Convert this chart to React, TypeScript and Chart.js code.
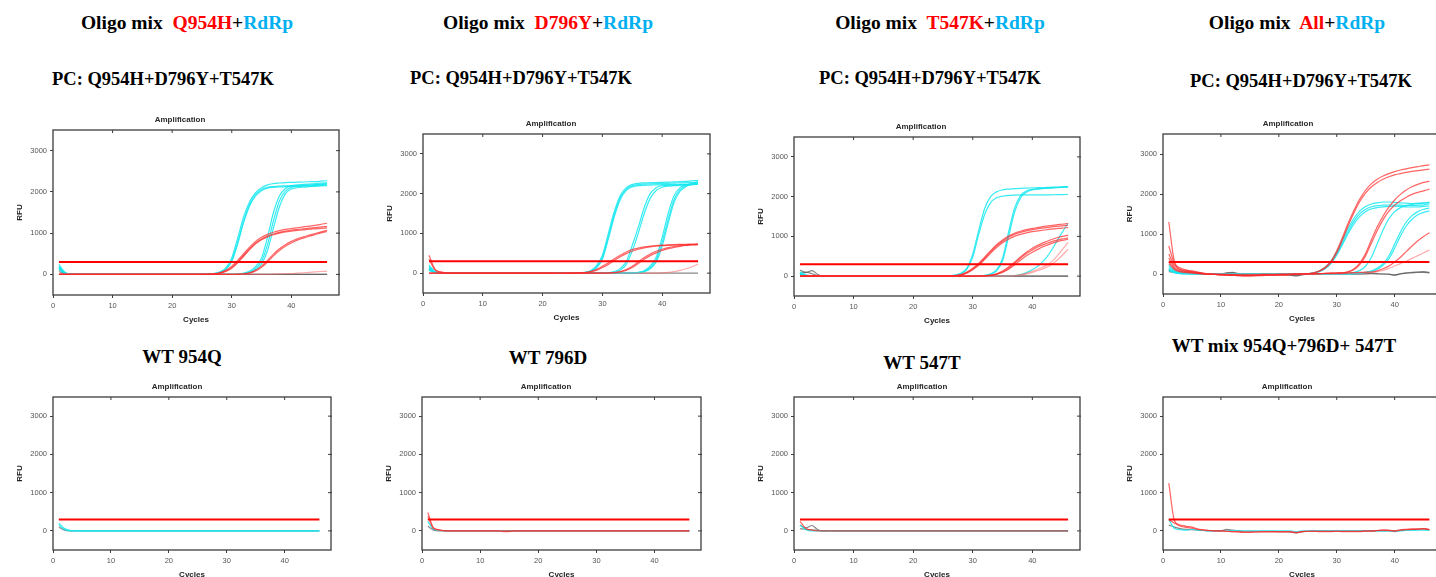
import { useEffect, useRef } from 'react';
import { Chart, registerables } from 'chart.js';

Chart.register(...registerables);
Chart.defaults.font.family = '"Liberation Sans", Arial, sans-serif';

// ---------- shared axis data ----------
const cycles = [
  1, 2, 3, 4, 5, 6, 7, 8, 9, 10,
  11, 12, 13, 14, 15, 16, 17, 18, 19, 20,
  21, 22, 23, 24, 25, 26, 27, 28, 29, 30,
  31, 32, 33, 34, 35, 36, 37, 38, 39, 40,
  41, 42, 43, 44, 45, 46,
];
const xTickValues = [0, 10, 20, 30, 40];
const yTickValues = [0, 1000, 2000, 3000];
const thresholdValue = 300;
const thresholdCycles = [1, 46];

// ---------- Panel 1: Oligo mix Q954H+RdRp ----------
const p1CyanA = [
  240, 50, 10, 0, 0, 0, 0, 0, 0, 0,
  0, 0, 0, 0, 0, 0, 0, 0, 0, 0,
  0, 0, 0, 0, 0, 5, 20, 60, 160, 400,
  880, 1400, 1760, 1980, 2100, 2170, 2200, 2215, 2225, 2230,
  2235, 2240, 2245, 2250, 2260, 2270,
];
const p1CyanB = [
  200, 40, 5, 0, 0, 0, 0, 0, 0, 0,
  0, 0, 0, 0, 0, 0, 0, 0, 0, 0,
  0, 0, 0, 0, 0, 3, 15, 45, 130, 340,
  780, 1300, 1700, 1940, 2060, 2110, 2130, 2140, 2145, 2150,
  2155, 2160, 2165, 2175, 2185, 2200,
];
const p1CyanC = [
  160, 30, 0, 0, 0, 0, 0, 0, 0, 0,
  0, 0, 0, 0, 0, 0, 0, 0, 0, 0,
  0, 0, 0, 0, 0, 2, 12, 40, 115, 310,
  740, 1260, 1660, 1900, 2030, 2090, 2110, 2120, 2125, 2130,
  2135, 2140, 2145, 2150, 2155, 2160,
];
const p1CyanD = [
  180, 30, 0, 0, 0, 0, 0, 0, 0, 0,
  0, 0, 0, 0, 0, 0, 0, 0, 0, 0,
  0, 0, 0, 0, 0, 0, 0, 0, 0, 3,
  8, 30, 80, 190, 400, 900, 1500, 1900, 2080, 2150,
  2170, 2180, 2190, 2200, 2210, 2220,
];
const p1CyanE = [
  150, 25, 0, 0, 0, 0, 0, 0, 0, 0,
  0, 0, 0, 0, 0, 0, 0, 0, 0, 0,
  0, 0, 0, 0, 0, 0, 0, 0, 0, 0,
  5, 20, 60, 150, 320, 720, 1300, 1780, 2020, 2110,
  2140, 2150, 2160, 2170, 2180, 2190,
];
const p1CyanF = [
  130, 20, 0, 0, 0, 0, 0, 0, 0, 0,
  0, 0, 0, 0, 0, 0, 0, 0, 0, 0,
  0, 0, 0, 0, 0, 0, 0, 0, 0, 0,
  3, 12, 40, 110, 250, 580, 1120, 1640, 1950, 2070,
  2100, 2115, 2125, 2135, 2145, 2150,
];
const p1RedA = [
  0, 0, 0, 0, 0, 0, 0, 0, 0, 0,
  0, 0, 0, 0, 0, 0, 0, 0, 0, 0,
  0, 0, 0, 0, 0, 5, 15, 40, 100, 200,
  340, 500, 660, 800, 900, 970, 1020, 1060, 1090, 1110,
  1130, 1150, 1170, 1190, 1215, 1240,
];
const p1RedB = [
  0, 0, 0, 0, 0, 0, 0, 0, 0, 0,
  0, 0, 0, 0, 0, 0, 0, 0, 0, 0,
  0, 0, 0, 0, 0, 3, 10, 30, 80, 170,
  300, 460, 620, 760, 860, 930, 980, 1020, 1050, 1070,
  1090, 1105, 1120, 1135, 1150, 1160,
];
const p1RedC = [
  0, 0, 0, 0, 0, 0, 0, 0, 0, 0,
  0, 0, 0, 0, 0, 0, 0, 0, 0, 0,
  0, 0, 0, 0, 0, 2, 8, 25, 70, 150,
  280, 440, 600, 740, 840, 910, 960, 1000, 1030, 1050,
  1065, 1080, 1095, 1105, 1115, 1125,
];
const p1RedD = [
  0, 0, 0, 0, 0, 0, 0, 0, 0, 0,
  0, 0, 0, 0, 0, 0, 0, 0, 0, 0,
  0, 0, 0, 0, 0, 0, 0, 0, 0, 0,
  5, 15, 40, 100, 200, 340, 490, 620, 720, 800,
  860, 910, 950, 990, 1030, 1070,
];
const p1RedE = [
  0, 0, 0, 0, 0, 0, 0, 0, 0, 0,
  0, 0, 0, 0, 0, 0, 0, 0, 0, 0,
  0, 0, 0, 0, 0, 0, 0, 0, 0, 0,
  3, 10, 30, 80, 170, 300, 450, 580, 680, 760,
  830, 880, 925, 965, 1005, 1040,
];
const p1RedF = [
  0, 0, 0, 0, 0, 0, 0, 0, 0, 0,
  0, 0, 0, 0, 0, 0, 0, 0, 0, 0,
  0, 0, 0, 0, 0, 0, 0, 0, 0, 0,
  0, 0, 0, 0, 0, 0, 5, 10, 15, 20,
  30, 40, 50, 60, 70, 80,
];
const p1GrayA = [
  120, 30, 0, 0, 0, 0, 0, 0, 0, 0,
  0, 0, 0, 0, 0, 0, 0, 0, 0, 0,
  0, 0, 0, 0, 0, 0, 0, 0, 0, 0,
  0, 0, 0, 0, 0, 0, 0, 0, 0, 0,
  0, 0, 0, 0, 0, 0,
];
const p1GrayB = [
  70, 10, 0, 0, 0, 0, 0, 0, 0, 0,
  0, 0, 0, 0, 0, 0, 0, 0, 0, 0,
  0, 0, 0, 0, 0, 0, 0, 0, 0, 0,
  0, 0, 0, 0, 0, 0, 0, 0, 0, 0,
  0, 0, 0, 0, 0, 0,
];

// ---------- Panel 2: Oligo mix D796Y+RdRp ----------
const p2CyanA = [
  200, 40, 5, 0, 0, 0, 0, 0, 0, 0,
  0, 0, 0, 0, 0, 0, 0, 0, 0, 0,
  0, 0, 0, 0, 0, 5, 20, 60, 180, 450,
  1000, 1550, 1950, 2150, 2230, 2260, 2270, 2275, 2280, 2285,
  2290, 2295, 2300, 2310, 2320, 2330,
];
const p2CyanB = [
  170, 35, 0, 0, 0, 0, 0, 0, 0, 0,
  0, 0, 0, 0, 0, 0, 0, 0, 0, 0,
  0, 0, 0, 0, 0, 4, 15, 50, 150, 390,
  920, 1480, 1900, 2110, 2200, 2230, 2240, 2245, 2250, 2255,
  2260, 2265, 2270, 2275, 2280, 2290,
];
const p2CyanC = [
  140, 25, 0, 0, 0, 0, 0, 0, 0, 0,
  0, 0, 0, 0, 0, 0, 0, 0, 0, 0,
  0, 0, 0, 0, 0, 3, 12, 40, 130, 350,
  860, 1420, 1850, 2080, 2170, 2200, 2210, 2215, 2220, 2225,
  2225, 2230, 2230, 2235, 2240, 2250,
];
const p2CyanD = [
  120, 20, 0, 0, 0, 0, 0, 0, 0, 0,
  0, 0, 0, 0, 0, 0, 0, 0, 0, 0,
  0, 0, 0, 0, 0, 0, 0, 0, 0, 0,
  10, 40, 120, 290, 700, 1150, 1650, 2000, 2150, 2200,
  2210, 2215, 2220, 2225, 2235, 2250,
];
const p2CyanE = [
  100, 15, 0, 0, 0, 0, 0, 0, 0, 0,
  0, 0, 0, 0, 0, 0, 0, 0, 0, 0,
  0, 0, 0, 0, 0, 0, 0, 0, 0, 0,
  5, 25, 80, 220, 560, 1000, 1500, 1880, 2080, 2160,
  2190, 2200, 2210, 2215, 2225, 2240,
];
const p2CyanF = [
  90, 15, 0, 0, 0, 0, 0, 0, 0, 0,
  0, 0, 0, 0, 0, 0, 0, 0, 0, 0,
  0, 0, 0, 0, 0, 0, 0, 0, 0, 0,
  0, 0, 0, 0, 5, 20, 60, 180, 400, 900,
  1500, 1950, 2150, 2220, 2260, 2300,
];
const p2CyanG = [
  80, 10, 0, 0, 0, 0, 0, 0, 0, 0,
  0, 0, 0, 0, 0, 0, 0, 0, 0, 0,
  0, 0, 0, 0, 0, 0, 0, 0, 0, 0,
  0, 0, 0, 0, 3, 15, 45, 140, 330, 780,
  1350, 1850, 2100, 2200, 2240, 2270,
];
const p2CyanH = [
  70, 10, 0, 0, 0, 0, 0, 0, 0, 0,
  0, 0, 0, 0, 0, 0, 0, 0, 0, 0,
  0, 0, 0, 0, 0, 0, 0, 0, 0, 0,
  0, 0, 0, 0, 2, 10, 35, 110, 280, 680,
  1250, 1780, 2060, 2180, 2230, 2260,
];
const p2RedA = [
  450, 100, 30, 0, 0, 0, 0, 0, 0, 0,
  0, 0, 0, 0, 0, 0, 0, 0, 0, 0,
  0, 0, -10, 0, 0, 5, 15, 40, 90, 170,
  260, 360, 450, 530, 590, 630, 660, 680, 695, 705,
  712, 718, 722, 726, 730, 735,
];
const p2RedB = [
  350, 80, 20, 0, 0, 0, 0, 0, 0, 0,
  0, 0, 0, 0, 0, 0, 0, 0, 0, 0,
  0, 0, 0, 0, 0, 3, 10, 30, 70, 140,
  220, 320, 410, 490, 550, 600, 635, 660, 680, 690,
  700, 705, 710, 715, 720, 725,
];
const p2RedC = [
  0, 0, 0, 0, 0, 0, 0, 0, 0, 0,
  0, 0, 0, 0, 0, 0, 0, 0, 0, 0,
  0, 0, 0, 0, 0, 0, 0, 0, 0, 0,
  5, 15, 40, 90, 170, 280, 390, 480, 550, 600,
  640, 670, 690, 705, 715, 720,
];
const p2RedD = [
  0, 0, 0, 0, 0, 0, 0, 0, 0, 0,
  0, 0, 0, 0, 0, 0, 0, 0, 0, 0,
  0, 0, 0, 0, 0, 0, 0, 0, 0, 0,
  3, 10, 30, 70, 140, 240, 350, 440, 510, 570,
  615, 650, 675, 695, 708, 715,
];
const p2RedE = [
  0, 0, 0, 0, 0, 0, 0, 0, 0, 0,
  0, 0, 0, 0, 0, 0, 0, 0, 0, 0,
  0, 0, 0, 0, 0, 0, 0, 0, 0, 0,
  0, 0, 0, 0, 0, 0, 0, 0, 0, 10,
  20, 40, 70, 110, 160, 230,
];
const p2Gray = [
  120, 30, 0, 0, 0, 0, 0, 0, 0, 0,
  0, 0, 0, 0, 0, 0, 0, 0, 0, 0,
  0, 0, 0, 0, 0, 0, 0, 0, 0, 0,
  0, 0, 0, 0, 0, 0, 0, 0, 0, 0,
  0, 0, 0, 0, 0, 0,
];

// ---------- Panel 3: Oligo mix T547K+RdRp ----------
const p3CyanA = [
  100, 30, 0, 0, 0, 0, 0, 0, 0, 0,
  0, 0, 0, 0, 0, 0, 0, 0, 0, 0,
  0, 0, 0, 0, 0, 8, 25, 70, 200, 560,
  1150, 1700, 2000, 2120, 2170, 2190, 2200, 2210, 2215, 2220,
  2225, 2230, 2235, 2240, 2245, 2250,
];
const p3CyanB = [
  80, 20, 0, 0, 0, 0, 0, 0, 0, 0,
  0, 0, 0, 0, 0, 0, 0, 0, 0, 0,
  0, 0, 0, 0, 0, 6, 20, 60, 170, 480,
  1050, 1550, 1850, 1970, 2010, 2030, 2040, 2045, 2045, 2045,
  2045, 2045, 2045, 2048, 2050, 2055,
];
const p3CyanC = [
  60, 10, 0, 0, 0, 0, 0, 0, 0, 0,
  0, 0, 0, 0, 0, 0, 0, 0, 0, 0,
  0, 0, 0, 0, 0, 0, 0, 0, 0, 0,
  5, 20, 60, 160, 450, 1100, 1700, 2020, 2140, 2180,
  2200, 2210, 2220, 2230, 2240, 2250,
];
const p3CyanD = [
  50, 10, 0, 0, 0, 0, 0, 0, 0, 0,
  0, 0, 0, 0, 0, 0, 0, 0, 0, 0,
  0, 0, 0, 0, 0, 0, 0, 0, 0, 0,
  3, 15, 45, 130, 380, 980, 1600, 1960, 2110, 2170,
  2190, 2205, 2215, 2225, 2235, 2245,
];
const p3CyanE = [
  40, 0, 0, 0, 0, 0, 0, 0, 0, 0,
  0, 0, 0, 0, 0, 0, 0, 0, 0, 0,
  0, 0, 0, 0, 0, 0, 0, 0, 0, 0,
  0, 0, 0, 0, 0, 5, 15, 40, 90, 160,
  260, 400, 600, 850, 1100, 1330,
];
const p3RedA = [
  0, 0, 0, 0, 0, 0, 0, 0, 0, 0,
  0, 0, 0, 0, 0, 0, 0, 0, 0, 0,
  0, 0, 0, 0, 0, 5, 15, 40, 100, 200,
  320, 480, 640, 790, 910, 1010, 1080, 1130, 1170, 1200,
  1225, 1250, 1270, 1290, 1305, 1320,
];
const p3RedB = [
  0, 0, 0, 0, 0, 0, 0, 0, 0, 0,
  0, 0, 0, 0, 0, 0, 0, 0, 0, 0,
  0, 0, 0, 0, 0, 4, 12, 32, 85, 180,
  300, 450, 610, 760, 880, 980, 1050, 1100, 1140, 1170,
  1195, 1215, 1235, 1250, 1265, 1280,
];
const p3RedC = [
  0, 0, 0, 0, 0, 0, 0, 0, 0, 0,
  0, 0, 0, 0, 0, 0, 0, 0, 0, 0,
  0, 0, 0, 0, 0, 3, 10, 28, 75, 160,
  270, 420, 580, 720, 840, 930, 1000, 1050, 1090, 1120,
  1140, 1160, 1180, 1195, 1210, 1220,
];
const p3RedD = [
  0, 0, 0, 0, 0, 0, 0, 0, 0, 0,
  0, 0, 0, 0, 0, 0, 0, 0, 0, 0,
  0, 0, 0, 0, 0, 0, 0, 0, 0, 0,
  5, 10, 25, 60, 130, 230, 350, 480, 600, 700,
  780, 850, 910, 960, 1000, 1030,
];
const p3RedE = [
  0, 0, 0, 0, 0, 0, 0, 0, 0, 0,
  0, 0, 0, 0, 0, 0, 0, 0, 0, 0,
  0, 0, 0, 0, 0, 0, 0, 0, 0, 0,
  3, 8, 20, 50, 110, 200, 320, 450, 570, 660,
  740, 800, 855, 900, 935, 960,
];
const p3RedF = [
  0, 0, 0, 0, 0, 0, 0, 0, 0, 0,
  0, 0, 0, 0, 0, 0, 0, 0, 0, 0,
  0, 0, 0, 0, 0, 0, 0, 0, 0, 0,
  2, 6, 15, 40, 90, 170, 280, 400, 510, 600,
  680, 750, 810, 860, 900, 930,
];
const p3RedG = [
  0, 0, 0, 0, 0, 0, 0, 0, 0, 0,
  0, 0, 0, 0, 0, 0, 0, 0, 0, 0,
  0, 0, 0, 0, 0, 0, 0, 0, 0, 0,
  0, 0, 0, 0, 0, 5, 15, 35, 70, 120,
  180, 250, 330, 480, 660, 850,
];
const p3RedH = [
  0, 0, 0, 0, 0, 0, 0, 0, 0, 0,
  0, 0, 0, 0, 0, 0, 0, 0, 0, 0,
  0, 0, 0, 0, 0, 0, 0, 0, 0, 0,
  0, 0, 0, 0, 0, 3, 10, 25, 50, 90,
  140, 200, 270, 380, 520, 680,
];
const p3GrayA = [
  150, 90, 140, 40, 0, 10, 0, 0, 0, 0,
  10, 0, 0, 0, 0, 0, 0, 0, 0, 0,
  0, 0, 0, 0, 0, 0, 0, 0, 0, 0,
  0, 0, 0, 0, 0, 0, 0, 0, 0, 0,
  0, 0, 0, 0, 0, 0,
];
const p3GrayB = [
  60, 100, 60, 10, 0, 0, 0, 0, 0, 0,
  0, 0, 0, 0, 0, 0, 0, 0, 0, 0,
  0, 0, 0, 0, 0, 0, 0, 0, 0, 0,
  0, 0, 0, 0, 0, 0, 0, 0, 0, 0,
  0, 0, 0, 0, 0, 0,
];

// ---------- Panel 4: Oligo mix All+RdRp ----------
const p4RedA = [
  1300, 300, 150, 100, 80, 50, 20, 0, -10, -20,
  -20, -30, -40, -40, -40, -40, -35, -30, -30, -25,
  -20, -15, -10, 0, 10, 30, 80, 170, 320, 580,
  920, 1280, 1600, 1880, 2100, 2260, 2370, 2450, 2510, 2560,
  2600, 2630, 2660, 2685, 2710, 2730,
];
const p4RedB = [
  700, 250, 120, 90, 60, 40, 10, 0, -10, -20,
  -30, -30, -40, -50, -50, -40, -40, -30, -30, -20,
  -20, -10, -10, 0, 10, 25, 70, 150, 290, 530,
  860, 1220, 1540, 1820, 2030, 2180, 2290, 2370, 2430, 2480,
  2510, 2540, 2565, 2585, 2605, 2620,
];
const p4RedC = [
  500, 200, 100, 70, 50, 30, 10, 0, -10, -10,
  -20, -30, -30, -40, -40, -30, -30, -30, -20, -20,
  -20, -10, -10, 0, 0, 5, 10, 15, 20, 25,
  30, 60, 130, 280, 520, 860, 1180, 1450, 1670, 1850,
  1990, 2100, 2180, 2240, 2290, 2320,
];
const p4RedD = [
  400, 150, 80, 60, 40, 20, 0, -10, -10, -20,
  -20, -20, -30, -30, -30, -30, -20, -20, -20, -10,
  -10, -10, 0, 0, 0, 5, 8, 12, 15, 20,
  25, 50, 110, 240, 460, 780, 1090, 1360, 1570, 1720,
  1830, 1920, 1990, 2040, 2080, 2120,
];
const p4RedE = [
  300, 120, 60, 40, 30, 10, 0, 0, -10, -10,
  -10, -20, -20, -20, -20, -20, -10, -10, -10, -10,
  0, 0, 0, 0, 0, 5, 10, 15, 20, 25,
  30, 30, 35, 40, 45, 50, 80, 130, 200, 300,
  420, 560, 700, 830, 940, 1030,
];
const p4RedF = [
  250, 100, 50, 30, 20, 10, 0, 0, 0, 0,
  0, 0, 0, 0, 0, 0, 0, 0, 0, 0,
  0, 0, 0, 0, 0, 0, 0, 0, 0, 0,
  10, 15, 20, 25, 30, 40, 60, 90, 140, 200,
  260, 320, 390, 460, 530, 600,
];
const p4CyanA = [
  250, 100, 60, 40, 30, 20, 10, 0, 0, 0,
  0, 0, 0, 0, 0, 0, 0, 0, 0, 0,
  0, 0, 0, 0, 10, 30, 80, 170, 320, 560,
  850, 1150, 1400, 1580, 1690, 1750, 1780, 1800, 1800, 1790,
  1780, 1770, 1760, 1770, 1780, 1790,
];
const p4CyanB = [
  200, 80, 40, 30, 20, 10, 0, 0, 0, 0,
  0, 0, 0, 0, 0, 0, 0, 0, 0, 0,
  0, 0, 0, 0, 8, 25, 70, 150, 290, 510,
  790, 1080, 1330, 1510, 1620, 1680, 1710, 1720, 1725, 1725,
  1720, 1715, 1710, 1720, 1730, 1750,
];
const p4CyanC = [
  150, 60, 30, 20, 10, 0, 0, 0, 0, 0,
  0, 0, 0, 0, 0, 0, 0, 0, 0, 0,
  0, 0, 0, 0, 5, 20, 60, 130, 260, 470,
  740, 1020, 1260, 1440, 1560, 1630, 1660, 1680, 1690, 1695,
  1690, 1680, 1675, 1680, 1690, 1700,
];
const p4CyanD = [
  120, 50, 20, 10, 0, 0, 0, 0, 0, 0,
  0, 0, 0, 0, 0, 0, 0, 0, 0, 0,
  0, 0, 0, 0, 0, 0, 0, 0, 0, 0,
  5, 5, 10, 20, 40, 80, 150, 260, 450, 750,
  1050, 1300, 1460, 1560, 1620, 1650,
];
const p4CyanE = [
  100, 40, 10, 0, 0, 0, 0, 0, 0, 0,
  0, 0, 0, 0, 0, 0, 0, 0, 0, 0,
  0, 0, 0, 0, 0, 0, 0, 0, 0, 0,
  0, 5, 10, 20, 40, 60, 120, 220, 380, 650,
  950, 1200, 1370, 1480, 1540, 1580,
];
const p4CyanF = [
  90, 30, 10, 0, 0, 0, 0, 0, 0, 0,
  0, 0, 0, 0, 0, 0, 0, 0, 0, 0,
  0, 0, 0, 0, 0, 0, 0, 0, 0, 0,
  10, 20, 40, 90, 200, 420, 760, 1100, 1380, 1560,
  1660, 1710, 1740, 1760, 1770, 1780,
];
const p4GrayA = [
  100, 60, 30, 20, 40, 30, 0, 10, 0, 0,
  30, 40, 10, 0, 0, 0, -10, 0, -10, -20,
  -20, -30, -50, -20, 0, 0, 0, 10, 0, 0,
  0, 10, 0, 0, 10, 20, 10, 0, 0, -30,
  10, 30, 40, 50, 60, 40,
];
const p4GrayB = [
  60, 40, 20, 20, 30, 20, 10, 0, 0, 0,
  20, 30, 10, 0, 0, 0, 0, 0, -10, -10,
  -10, -20, -40, -10, 0, 0, 0, 0, 0, 0,
  0, 0, 0, 0, 0, 10, 0, 0, -10, -20,
  0, 20, 30, 40, 40, 30,
];

// ---------- Panel 5: WT 954Q ----------
const p5CyanA = [
  200, 60, 10, 0, 0, 0, 0, 0, 0, 0,
  0, 0, 0, 0, 0, 0, 0, 0, 0, 0,
  0, 0, 0, 0, 0, 0, 0, 0, 0, 0,
  0, 0, 0, 0, 0, 0, 0, 0, 0, 0,
  0, 0, 0, 0, 0, 0,
];
const p5CyanB = [
  150, 40, 0, 0, 0, 0, 0, 0, 0, 0,
  0, 0, 0, 0, 0, 0, 0, 0, 0, 0,
  0, 0, 0, 0, 0, 0, 0, 0, 0, 0,
  0, 0, 0, 0, 0, 0, 0, 0, 0, 0,
  0, 0, 0, 0, 0, 0,
];
const p5Gray = [
  100, 20, 0, 0, 0, 0, 0, 0, 0, 0,
  0, 0, 0, 0, 0, 0, 0, 0, 0, 0,
  0, 0, 0, 0, 0, 0, 0, 0, 0, 0,
  0, 0, 0, 0, 0, 0, 0, 0, 0, 0,
  0, 0, 0, 0, 0, 0,
];

// ---------- Panel 6: WT 796D ----------
const p6RedA = [
  480, 80, 30, 0, 0, 0, 0, 0, 0, 0,
  0, 0, 0, -20, -20, 0, 0, 0, 0, 0,
  0, 0, 0, 0, 0, 0, 0, 0, 0, 0,
  0, 0, 0, 0, 0, 0, 0, 0, 0, 0,
  0, 0, 0, 0, 0, 0,
];
const p6RedB = [
  380, 60, 20, 0, 0, 0, 0, 0, 0, 0,
  0, 0, 0, 0, 0, 0, 0, 0, 0, 0,
  0, 0, 0, 0, 0, 0, 0, 0, 0, 0,
  0, 0, 0, 0, 0, 0, 0, 0, 0, 0,
  0, 0, 0, 0, 0, 0,
];
const p6Cyan = [
  250, 40, 10, 0, 0, 0, 0, 0, 0, 0,
  0, 0, 0, 0, 0, 0, 0, 0, 0, 0,
  0, 0, 0, 0, 0, 0, 0, 0, 0, 0,
  0, 0, 0, 0, 0, 0, 0, 0, 0, 0,
  0, 0, 0, 0, 0, 0,
];
const p6Gray = [
  120, 20, 0, 0, 0, 0, 0, 0, 0, 0,
  0, 0, 0, 0, 0, 0, 0, 0, 0, 0,
  0, 0, 0, 0, 0, 0, 0, 0, 0, 0,
  0, 0, 0, 0, 0, 0, 0, 0, 0, 0,
  0, 0, 0, 0, 0, 0,
];

// ---------- Panel 7: WT 547T ----------
const p7Red = [
  250, 60, 20, 0, 0, 0, 0, 0, 0, 0,
  0, 0, 0, 0, 0, 0, 0, 0, 0, 0,
  0, 0, 0, 0, 0, 0, 0, 0, 0, 0,
  0, 0, 0, 0, 0, 0, 0, 0, 0, 0,
  0, 0, 0, 0, 0, 0,
];
const p7GrayA = [
  150, 80, 140, 30, 0, 10, 0, 0, 0, 0,
  0, 0, 0, 0, 0, 0, 0, 0, 0, 0,
  0, 0, 0, 0, 0, 0, 0, 0, 0, 0,
  0, 0, 0, 0, 0, 0, 0, 0, 0, 0,
  0, 0, 0, 0, 0, 0,
];
const p7GrayB = [
  60, 40, 30, 10, 0, 0, 0, 0, 0, 0,
  0, 0, 0, 0, 0, 0, 0, 0, 0, 0,
  0, 0, 0, 0, 0, 0, 0, 0, 0, 0,
  0, 0, 0, 0, 0, 0, 0, 0, 0, 0,
  0, 0, 0, 0, 0, 0,
];
const p7Cyan = [
  150, 30, 0, 0, 0, 0, 0, 0, 0, 0,
  0, 0, 0, 0, 0, 0, 0, 0, 0, 0,
  0, 0, 0, 0, 0, 0, 0, 0, 0, 0,
  0, 0, 0, 0, 0, 0, 0, 0, 0, 0,
  0, 0, 0, 0, 0, 0,
];

// ---------- Panel 8: WT mix 954Q+796D+547T ----------
const p8RedA = [
  1250, 260, 150, 120, 100, 50, 30, 10, 0, 0,
  -10, -20, -30, -40, -40, -30, -30, -30, -30, -30,
  -30, -30, -50, -20, -10, -10, -20, -20, -20, -10,
  -20, -20, -20, -20, -10, -10, 10, 20, 20, 0,
  30, 40, 50, 50, 60, 40,
];
const p8RedB = [
  300, 200, 120, 90, 70, 40, 20, 10, 0, 0,
  -10, -20, -20, -30, -30, -30, -20, -20, -20, -20,
  -20, -20, -40, -20, -10, -10, -10, -10, -10, -10,
  -10, -10, -10, -10, 0, 0, 10, 20, 10, 0,
  20, 30, 40, 40, 50, 30,
];
const p8Cyan = [
  300, 60, 30, 20, 40, 20, 10, 0, 0, 0,
  0, 10, 0, 0, 0, 0, 0, 0, 0, 0,
  0, 0, -20, 0, 0, 0, 0, 0, 0, 0,
  0, 0, 0, 0, 0, 0, 0, 0, 0, 0,
  0, 10, 10, 20, 20, 10,
];
const p8Gray = [
  150, 100, 60, 40, 30, 20, 10, 0, 0, 0,
  40, 20, 0, -10, -10, -10, -10, -10, -10, -20,
  -20, -30, -50, -20, -10, 0, 0, 0, 0, 0,
  0, 0, 0, 0, 0, 0, 0, 0, 0, -20,
  10, 20, 30, 40, 50, 30,
];

// ---------- styles ----------
const COLORS: Record<string, string> = {
  cyan: 'rgba(20,232,240,0.85)',
  red: 'rgba(255,40,40,0.72)',
  faint: 'rgba(255,90,90,0.5)',
  gray: 'rgba(85,85,85,0.7)',
};
const THRESH_COLOR = '#FF0000';

type Panel = {
  L: number; R: number; T: number; B: number; cx: number;
  series: [number[], string][];
};

const panels: Panel[] = [
  {
    L: 53, R: 339, T: 130, B: 295, cx: 180,
    series: [
      [p1RedA, 'red'], [p1RedB, 'red'], [p1RedC, 'red'], [p1RedD, 'red'], [p1RedE, 'red'], [p1RedF, 'faint'],
      [p1CyanA, 'cyan'], [p1CyanB, 'cyan'], [p1CyanC, 'cyan'], [p1CyanD, 'cyan'], [p1CyanE, 'cyan'], [p1CyanF, 'cyan'],
      [p1GrayA, 'gray'], [p1GrayB, 'gray'],
    ],
  },
  {
    L: 423, R: 710, T: 134, B: 293, cx: 551,
    series: [
      [p2RedA, 'red'], [p2RedB, 'red'], [p2RedC, 'red'], [p2RedD, 'red'], [p2RedE, 'faint'],
      [p2CyanA, 'cyan'], [p2CyanB, 'cyan'], [p2CyanC, 'cyan'], [p2CyanD, 'cyan'], [p2CyanE, 'cyan'],
      [p2CyanF, 'cyan'], [p2CyanG, 'cyan'], [p2CyanH, 'cyan'],
      [p2Gray, 'gray'],
    ],
  },
  {
    L: 794, R: 1080, T: 137, B: 296, cx: 921,
    series: [
      [p3RedA, 'red'], [p3RedB, 'red'], [p3RedC, 'red'], [p3RedD, 'red'], [p3RedE, 'red'], [p3RedF, 'red'],
      [p3RedG, 'faint'], [p3RedH, 'faint'],
      [p3CyanA, 'cyan'], [p3CyanB, 'cyan'], [p3CyanC, 'cyan'], [p3CyanD, 'cyan'], [p3CyanE, 'cyan'],
      [p3GrayA, 'gray'], [p3GrayB, 'gray'],
    ],
  },
  {
    L: 1163, R: 1441, T: 134, B: 294, cx: 1288,
    series: [
      [p4RedA, 'red'], [p4RedB, 'red'], [p4RedC, 'red'], [p4RedD, 'red'], [p4RedE, 'red'], [p4RedF, 'faint'],
      [p4CyanA, 'cyan'], [p4CyanB, 'cyan'], [p4CyanC, 'cyan'], [p4CyanD, 'cyan'], [p4CyanE, 'cyan'], [p4CyanF, 'cyan'],
      [p4GrayA, 'gray'], [p4GrayB, 'gray'],
    ],
  },
  {
    L: 53, R: 331, T: 397, B: 550, cx: 177,
    series: [[p5CyanA, 'cyan'], [p5CyanB, 'cyan'], [p5Gray, 'gray']],
  },
  {
    L: 422, R: 701, T: 397, B: 550, cx: 546,
    series: [[p6RedA, 'red'], [p6RedB, 'red'], [p6Cyan, 'cyan'], [p6Gray, 'gray']],
  },
  {
    L: 794, R: 1080, T: 397, B: 550, cx: 922,
    series: [[p7Red, 'red'], [p7Cyan, 'cyan'], [p7GrayA, 'gray'], [p7GrayB, 'gray']],
  },
  {
    L: 1163, R: 1441, T: 397, B: 550, cx: 1287,
    series: [[p8RedA, 'red'], [p8RedB, 'red'], [p8Cyan, 'cyan'], [p8Gray, 'gray']],
  },
];

const LEFT_W = 53;
const TOP_H = 20;
const BOTTOM_H = 32;

const framePlugin = {
  id: 'frame',
  afterDraw(chart: any) {
    const { ctx, chartArea: a, scales } = chart;
    ctx.save();
    ctx.strokeStyle = '#3c3c3c';
    ctx.lineWidth = 1.3;
    ctx.strokeRect(a.left, a.top, a.right - a.left, a.bottom - a.top);
    ctx.lineWidth = 1;
    ctx.beginPath();
    for (const v of xTickValues) {
      if (v === 0) continue;
      const px = scales.x.getPixelForValue(v);
      ctx.moveTo(px, a.top);
      ctx.lineTo(px, a.top + 3);
    }
    for (const v of yTickValues) {
      const py = scales.y.getPixelForValue(v);
      ctx.moveTo(a.right - 3, py);
      ctx.lineTo(a.right + 1, py);
    }
    ctx.stroke();
    ctx.restore();
  },
};

function AmpChart({ panel }: { panel: Panel }) {
  const ref = useRef<HTMLCanvasElement>(null);
  const left = panel.L - LEFT_W;
  const width = Math.round(2 * (panel.cx - left));
  const top = panel.T - TOP_H;
  const height = panel.B - panel.T + TOP_H + BOTTOM_H;
  const rightPad = width - LEFT_W - (panel.R - panel.L);

  useEffect(() => {
    const canvas = ref.current;
    if (!canvas) return;
    const tickFont = { size: 7.5 };
    const titleFont = { size: 8, weight: 'bold' as const };
    const plainLabel = (v: any) => String(v);
    const datasets: any[] = [
      {
        data: thresholdCycles.map((c) => ({ x: c, y: thresholdValue })),
        borderColor: THRESH_COLOR,
        borderWidth: 2,
        pointRadius: 0,
        tension: 0,
      },
      ...panel.series.map(([vals, kind]) => ({
        data: vals.map((v, i) => ({ x: cycles[i], y: v })),
        borderColor: COLORS[kind],
        borderWidth: 1.2,
        pointRadius: 0,
        cubicInterpolationMode: 'monotone',
      })),
    ];
    const chart = new Chart(canvas, {
      type: 'line',
      data: { datasets },
      options: {
        animation: false,
        responsive: false,
        events: [],
        layout: { padding: 0 },
        plugins: {
          legend: { display: false },
          tooltip: { enabled: false },
          title: {
            display: true,
            text: 'Amplification',
            color: '#2a2a2a',
            font: titleFont,
            padding: { top: 5, bottom: 5.4 },
          },
        },
        scales: {
          x: {
            type: 'linear',
            min: 0,
            max: 48,
            afterBuildTicks: (s: any) => { s.ticks = xTickValues.map((v) => ({ value: v })); },
            afterFit: (s: any) => { s.height = BOTTOM_H; },
            ticks: { font: tickFont, color: '#555', padding: 3, maxRotation: 0, callback: plainLabel },
            grid: { drawOnChartArea: false, tickLength: 3, color: '#3c3c3c' },
            border: { display: false },
            title: { display: true, text: 'Cycles', color: '#222', font: titleFont, padding: { top: 0, bottom: 2.5 } },
          },
          y: {
            type: 'linear',
            min: -500,
            max: 3500,
            afterBuildTicks: (s: any) => { s.ticks = yTickValues.map((v) => ({ value: v })); },
            afterFit: (s: any) => { s.width = LEFT_W; },
            ticks: { font: tickFont, color: '#555', padding: 3, callback: plainLabel },
            grid: { drawOnChartArea: false, tickLength: 3, color: '#3c3c3c' },
            border: { display: false },
            title: { display: true, text: 'RFU', color: '#222', font: titleFont, padding: { top: 14.5, bottom: 0 } },
          },
          yR: {
            type: 'linear',
            position: 'right',
            display: true,
            afterFit: (s: any) => { s.width = rightPad; },
            ticks: { display: false },
            grid: { display: false },
            border: { display: false },
          },
        },
      } as any,
      plugins: [framePlugin],
    });
    return () => chart.destroy();
  }, [panel, rightPad]);

  return (
    <canvas
      ref={ref}
      width={width}
      height={height}
      style={{ position: 'absolute', left, top, width, height }}
    />
  );
}

const RED = '#FF0000';
const BLUE = '#00B0F0';
const serif = '"Liberation Serif", "Times New Roman", serif';

function Heading({ x, y, size, children }: { x: number; y: number; size: number; children: any }) {
  return (
    <div
      style={{
        position: 'absolute',
        left: x,
        top: y,
        transform: 'translate(-50%, -50%)',
        whiteSpace: 'pre',
        fontFamily: serif,
        fontWeight: 'bold',
        fontSize: size,
        lineHeight: 1,
        color: '#000',
      }}
    >
      {children}
    </div>
  );
}

const oligoTargets = ['Q954H', 'D796Y', 'T547K', 'All'];
const oligoPos = [
  [187, 23], [548, 23], [940, 23], [1297, 23],
];
const pcLabel = 'PC: Q954H+D796Y+T547K';
const pcPos = [
  [163, 79], [521, 78], [930, 78], [1301, 81],
];
const wtLabels = ['WT 954Q', 'WT 796D', 'WT 547T', 'WT mix 954Q+796D+ 547T'];
const wtPos = [
  [182, 356], [548, 357], [922, 362], [1284, 345],
];

export default function App() {
  return (
    <div
      style={{
        position: 'fixed',
        left: 0,
        top: 0,
        width: 1436,
        height: 577,
        overflow: 'hidden',
        background: '#fff',
      }}
    >
      {oligoTargets.map((t, i) => (
        <Heading key={'o' + i} x={oligoPos[i][0]} y={oligoPos[i][1]} size={19.5}>
          {'Oligo mix  '}
          <span style={{ color: RED }}>{t}</span>
          {'+'}
          <span style={{ color: BLUE }}>RdRp</span>
        </Heading>
      ))}
      {pcPos.map((p, i) => (
        <Heading key={'p' + i} x={p[0]} y={p[1]} size={18.5}>{pcLabel}</Heading>
      ))}
      {wtLabels.map((t, i) => (
        <Heading key={'w' + i} x={wtPos[i][0]} y={wtPos[i][1]} size={19}>{t}</Heading>
      ))}
      {panels.map((p, i) => (
        <AmpChart key={i} panel={p} />
      ))}
    </div>
  );
}
